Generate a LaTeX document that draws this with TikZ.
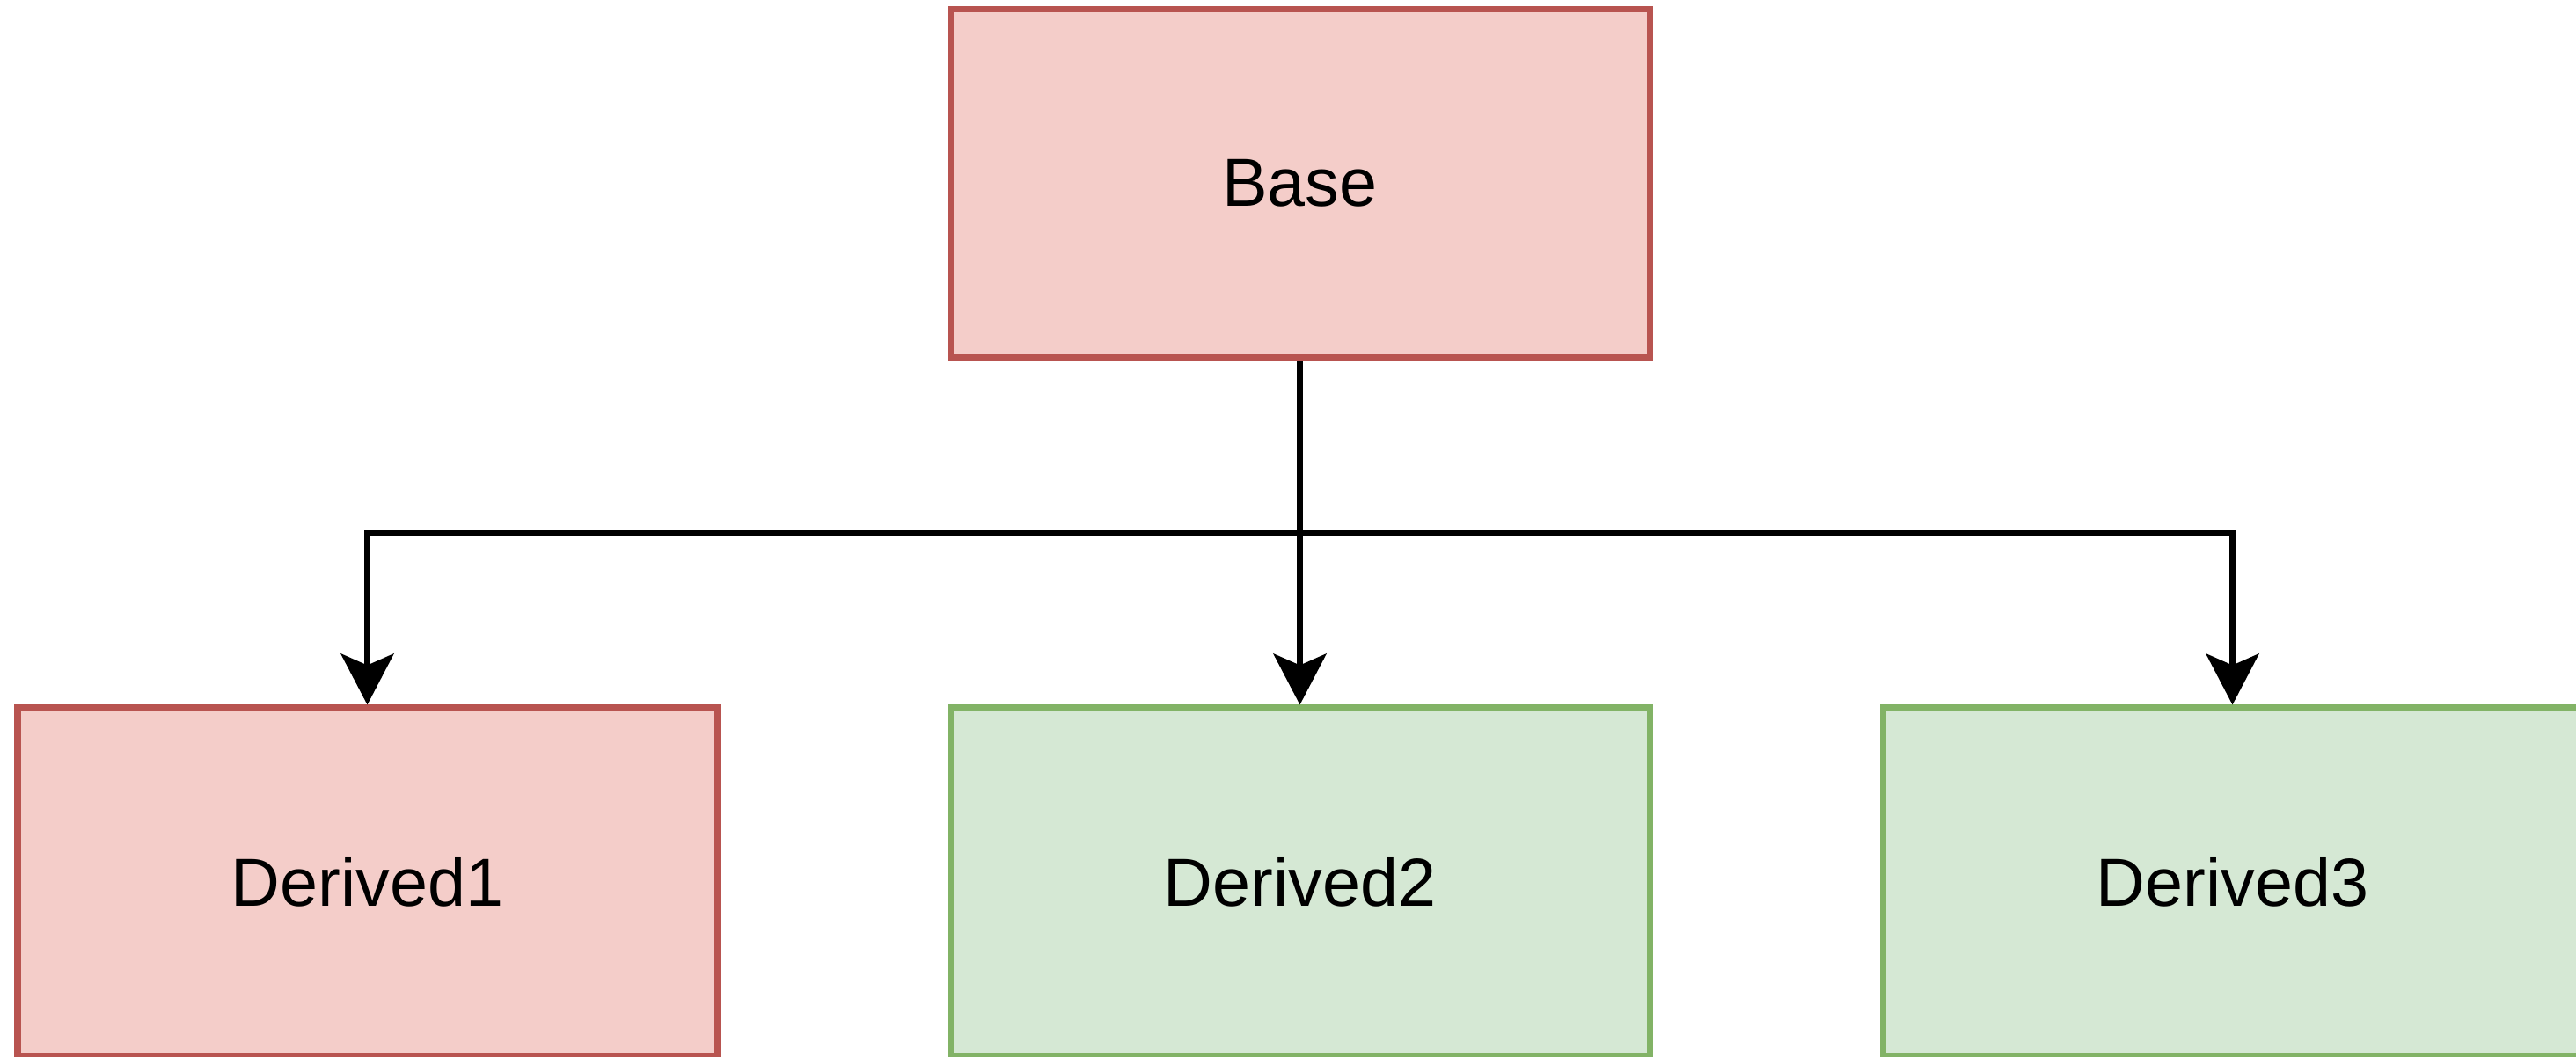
\documentclass[tikz,border=0pt]{standalone}
\usepackage{fontspec}
\setmainfont{Liberation Sans}
\usetikzlibrary{arrows.meta,calc}
\definecolor{redfill}{HTML}{F4CDC9}
\definecolor{redline}{HTML}{B85450}
\definecolor{greenfill}{HTML}{D5E8D4}
\definecolor{greenline}{HTML}{82B366}
\tikzset{
  box/.style={rectangle, minimum width=7.95cm, minimum height=3.96cm, line width=2pt,
    font=\fontsize{22pt}{26pt}\selectfont, inner sep=0pt},
  redbox/.style={box, draw=redline, fill=redfill},
  greenbox/.style={box, draw=greenline, fill=greenfill},
  arr/.style={line width=1.9pt, draw=black, -{Stealth[length=0.58cm, width=0.6cm, inset=0.13cm]}}
}
\begin{document}
\begin{tikzpicture}
\useasboundingbox[fill=white] (0,0) rectangle (29.28,-12.02);
\node[redbox] (base) at (14.775,-2.085) {Base};
\node[redbox] (d1) at (4.175,-10.03) {Derived1};
\node[greenbox] (d2) at (14.775,-10.03) {Derived2};
\node[greenbox] (d3) at (25.375,-10.03) {Derived3};
\path (base.south) ++(0,-1.965) coordinate (j);
\draw[arr] (base.south) -- (d2.north);
\draw[arr] (j) -| (d1.north);
\draw[arr] (j) -| (d3.north);
\end{tikzpicture}
\end{document}
